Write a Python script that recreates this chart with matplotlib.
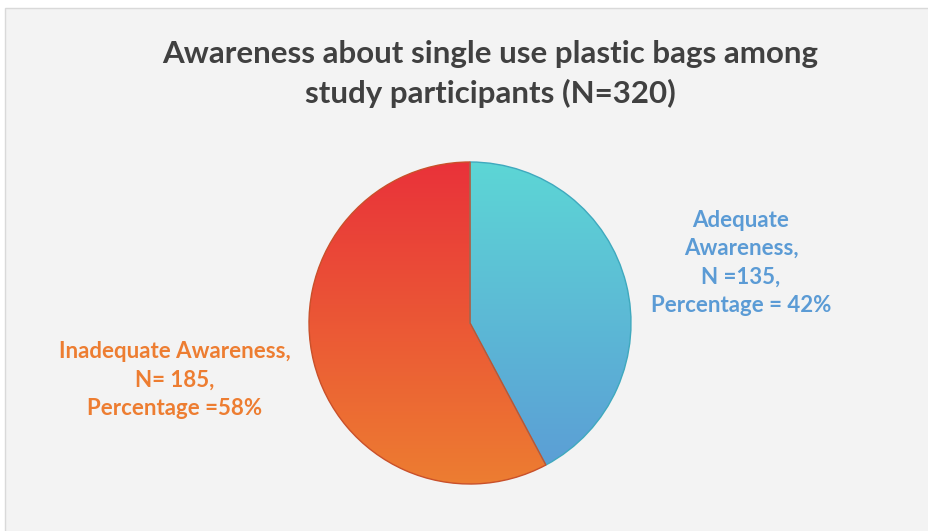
import numpy as np
import matplotlib.pyplot as plt
from matplotlib.patches import Rectangle
from matplotlib.colors import LinearSegmentedColormap

# data
categories = ["Adequate Awareness", "Inadequate Awareness"]
counts = [135, 185]
percent_text = ["42%", "58%"]
title = "Awareness about single use plastic bags among\nstudy participants (N=320)"

# gradient (top colour, bottom colour) and edge colour per slice
grad_colors = [("#5DD6D6", "#5B9BD5"), ("#E9323A", "#ED7D31")]
edge_colors = ["#3FA9BE", "#C9502A"]
label_colors = ["#5B9BD5", "#ED7D31"]

W, H = 929, 531
fig = plt.figure(figsize=(W / 100, H / 100), dpi=100, facecolor="white")
ax = fig.add_axes([0, 0, 1, 1])

# chart area background
ax.add_patch(Rectangle((5, -5), W, H - 8 + 5, facecolor="#F3F3F3",
                       edgecolor="#D9D9D9", lw=1, zorder=0))

cx, cy, r = 470, H - 323, 161
wedges, _ = ax.pie(counts, startangle=90, counterclock=False, radius=r,
                   center=(cx, cy), frame=True,
                   wedgeprops=dict(linewidth=1.0))
ax.set_xlim(0, W)
ax.set_ylim(0, H)
ax.set_aspect("equal")
ax.axis("off")

grad = np.linspace(0, 1, 256).reshape(-1, 1)
for w, (top, bot), ec in zip(wedges, grad_colors, edge_colors):
    w.set_facecolor("none")
    w.set_edgecolor(ec)
    w.set_zorder(3)
    cmap = LinearSegmentedColormap.from_list("g", [top, bot])
    im = ax.imshow(grad, cmap=cmap, extent=(cx - r, cx + r, cy - r, cy + r),
                   origin="upper", aspect="auto", zorder=2, interpolation="bicubic")
    im.set_clip_path(w)

font = "Lato"
ax.text(490, H - 74, title, ha="center", va="center", fontsize=22.5,
        fontweight="bold", color="#404040", family=font, linespacing=1.45)

ax.text(741, H - 263,
        "Adequate\nAwareness,\nN =%d,\nPercentage = %s" % (counts[0], percent_text[0]),
        ha="center", va="center", fontsize=16, fontweight="bold",
        color=label_colors[0], family=font, linespacing=1.45)
ax.text(175, H - 380,
        "Inadequate Awareness,\nN= %d,\nPercentage =%s" % (counts[1], percent_text[1]),
        ha="center", va="center", fontsize=16, fontweight="bold",
        color=label_colors[1], family=font, linespacing=1.45)

fig.savefig("out.png", dpi=100, facecolor="white")
